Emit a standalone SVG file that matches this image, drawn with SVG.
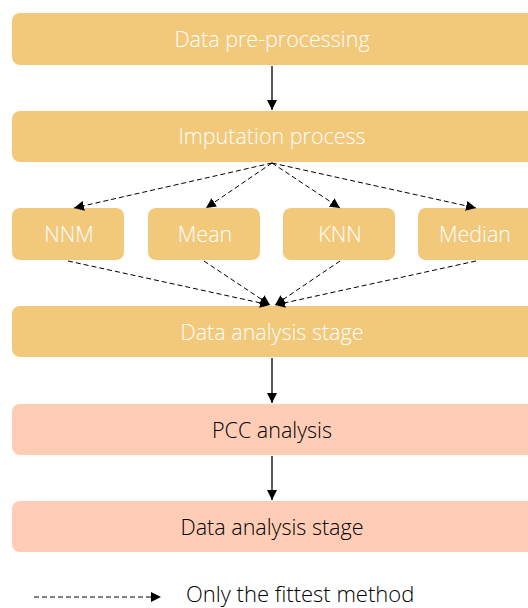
<svg xmlns="http://www.w3.org/2000/svg" width="528" height="608" viewBox="0 0 528 608">
<defs>
<style>
.o{fill:#F2C97B;}
.p{fill:#FFCDB5;}
text{font-family:"Open Sans","Liberation Sans",sans-serif;font-size:21.5px;font-weight:300;text-anchor:middle;}
.w{fill:#FFFFFF;}
.k{fill:#000000;}
.s{stroke:#000;stroke-width:1.3;fill:none;}
.d{stroke:#000;stroke-width:1;fill:none;stroke-dasharray:5,3;}
</style>
<marker id="ah" viewBox="0 0 10 10" refX="10" refY="5" markerWidth="10" markerHeight="10" markerUnits="userSpaceOnUse" orient="auto">
<path d="M0,0 L10,5 L0,10 Z" fill="#000"/>
</marker>
</defs>
<rect width="528" height="608" fill="#FFFFFF"/>
<g id="n1"><rect class="o" x="12" y="13" width="530" height="52" rx="8"/><text class="w" x="272" y="47">Data pre-processing</text></g>
<g id="n2"><rect class="o" x="12" y="111" width="530" height="51" rx="8"/><text class="w" x="272" y="144">Imputation process</text></g>
<g id="nnm"><rect class="o" x="12" y="208" width="112" height="52" rx="8"/><text class="w" x="69" y="242">NNM</text></g>
<g id="mean"><rect class="o" x="148" y="208" width="112" height="52" rx="8"/><text class="w" x="205" y="242">Mean</text></g>
<g id="knn"><rect class="o" x="283" y="208" width="112" height="52" rx="8"/><text class="w" x="340" y="242">KNN</text></g>
<g id="median"><rect class="o" x="418" y="208" width="124" height="52" rx="8"/><text class="w" x="475" y="242">Median</text></g>
<g id="n3"><rect class="o" x="12" y="306" width="530" height="51" rx="8"/><text class="w" x="272" y="340">Data analysis stage</text></g>
<g id="n4"><rect class="p" x="12" y="404" width="530" height="51" rx="8"/><text class="k" x="272" y="438">PCC analysis</text></g>
<g id="n5"><rect class="p" x="12" y="501" width="530" height="51" rx="8"/><text class="k" x="272" y="535">Data analysis stage</text></g>
<g id="connectors">
<line class="s" x1="272" y1="66" x2="272" y2="110" marker-end="url(#ah)"/>
<line class="d" x1="272" y1="163" x2="74" y2="208" marker-end="url(#ah)"/>
<line class="d" x1="272" y1="163" x2="206" y2="208" marker-end="url(#ah)"/>
<line class="d" x1="272" y1="163" x2="340" y2="208" marker-end="url(#ah)"/>
<line class="d" x1="272" y1="163" x2="476" y2="208" marker-end="url(#ah)"/>
<line class="d" x1="68" y1="261" x2="270" y2="305" marker-end="url(#ah)"/>
<line class="d" x1="204" y1="261" x2="270" y2="305" marker-end="url(#ah)"/>
<line class="d" x1="340" y1="261" x2="275" y2="305" marker-end="url(#ah)"/>
<line class="d" x1="476" y1="261" x2="275" y2="305" marker-end="url(#ah)"/>
<line class="s" x1="272" y1="358" x2="272" y2="403" marker-end="url(#ah)"/>
<line class="s" x1="272" y1="456" x2="272" y2="500" marker-end="url(#ah)"/>
</g>
<g id="legend">
<line class="d" x1="34" y1="597" x2="161" y2="597" marker-end="url(#ah)"/>
<text class="k" x="186" y="602" style="text-anchor:start;font-size:22px">Only the fittest method</text>
</g>
</svg>
